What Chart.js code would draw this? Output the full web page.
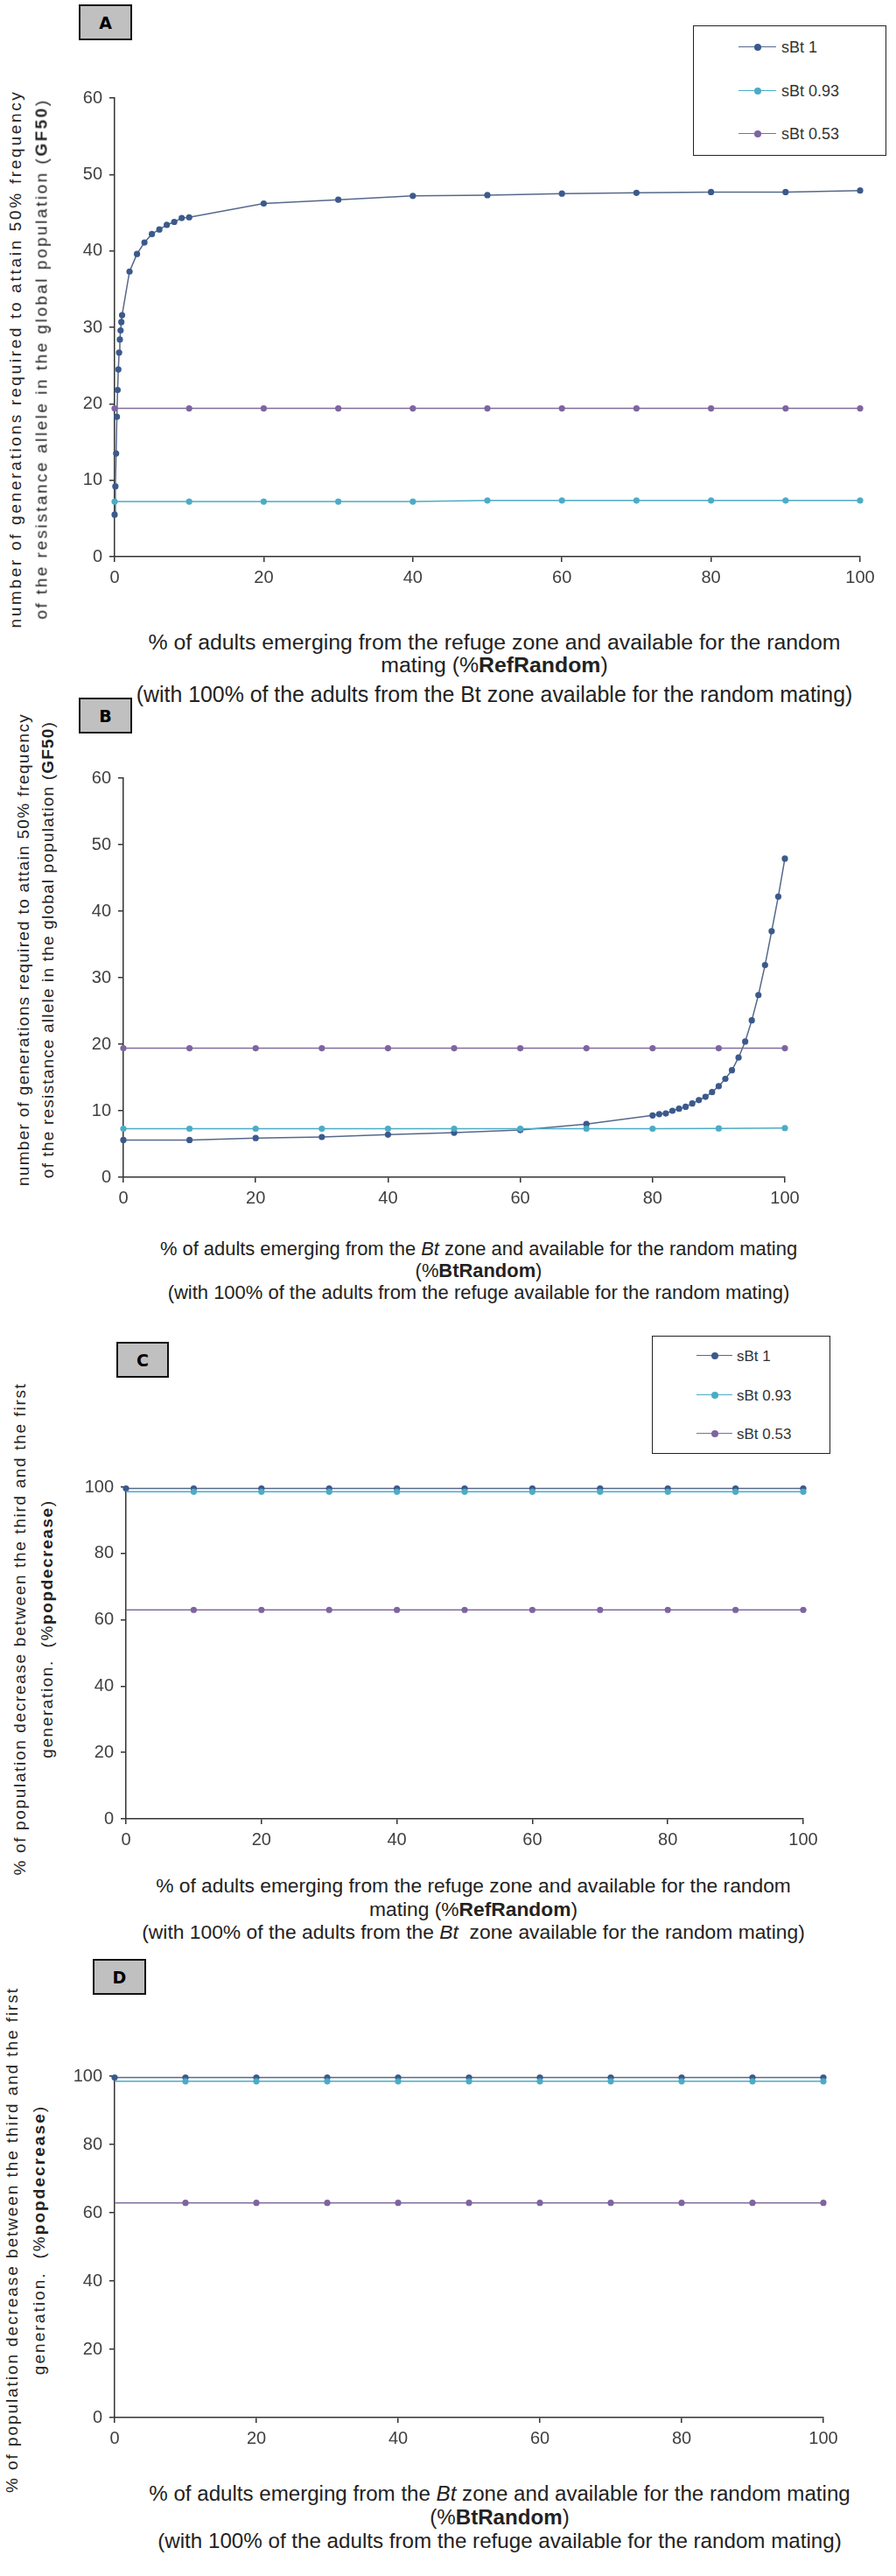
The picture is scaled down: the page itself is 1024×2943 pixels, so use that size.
<!DOCTYPE html>
<html lang="en">
<head>
<meta charset="UTF-8">
<title>GF50 and population decrease vs random mating</title>
<script src="https://cdn.jsdelivr.net/npm/chart.js@4.4.1/dist/chart.umd.min.js"></script>
<style>
  body { margin: 0; background: #fff; }
  #page { position: relative; width: 1024px; height: 2943px; overflow: hidden;
          font-family: "Liberation Sans", Arial, sans-serif; color: #222; }
  canvas { position: absolute; }
  .txt { position: absolute; white-space: nowrap; line-height: 1; transform: translate(-50%, -50%); }
  .rot { transform: translate(-50%, -50%) rotate(-90deg); }
  .tag { position: absolute; background: #c0c0c0; border: 2px solid #111; box-sizing: border-box;
         font: bold 19px "DejaVu Sans", Verdana, sans-serif; color: #000;
         display: flex; align-items: center; justify-content: center; }
  .legend { position: absolute; border: 1.5px solid #222; box-sizing: border-box; background: #fff; }
  .leg-line { position: absolute; height: 0; }
  .leg-dot { position: absolute; width: 8px; height: 8px; border-radius: 50%; }
  .leg-txt { position: absolute; white-space: nowrap; line-height: 1; transform: translateY(-50%); color: #333; }
</style>
</head>
<body>
<div id="page"></div>

<script>
// ---- data ----
const seriesNames = ['sBt 1', 'sBt 0.93', 'sBt 0.53'];
const xTicks = [0, 20, 40, 60, 80, 100];
const gfTicks = [0, 10, 20, 30, 40, 50, 60];
const pctTicks = [0, 20, 40, 60, 80, 100];
const xTen = [0, 10, 20, 30, 40, 50, 60, 70, 80, 90, 100];

// A: GF50 vs %RefRandom
const xA_sBt1 = [0, 0.1, 0.2, 0.3, 0.4, 0.5, 0.6, 0.7, 0.8, 0.9, 1, 2, 3, 4, 5, 6, 7, 8, 9, 10,
                 20, 30, 40, 50, 60, 70, 80, 90, 100];
const yA_sBt1 = [5.5, 9.2, 13.5, 18.3, 21.8, 24.5, 26.7, 28.4, 29.6, 30.7, 31.6, 37.3, 39.6, 41.1, 42.2,
                 42.8, 43.4, 43.8, 44.3, 44.4, 46.2, 46.7, 47.2, 47.3, 47.5, 47.6, 47.7, 47.7, 47.9];
const yA_sBt093 = [7.2, 7.2, 7.2, 7.2, 7.2, 7.35, 7.35, 7.35, 7.35, 7.35, 7.35];
const yA_sBt053 = [19.4, 19.4, 19.4, 19.4, 19.4, 19.4, 19.4, 19.4, 19.4, 19.4, 19.4];

// B: GF50 vs %BtRandom
const xB_sBt1 = [0, 10, 20, 30, 40, 50, 60, 70, 80, 81, 82, 83, 84, 85, 86, 87, 88, 89, 90,
                 91, 92, 93, 94, 95, 96, 97, 98, 99, 100];
const yB_sBt1 = [5.6, 5.6, 5.9, 6.05, 6.4, 6.7, 7.1, 8.0, 9.3, 9.5, 9.6, 10.0, 10.3, 10.6, 11.1, 11.6,
                 12.1, 12.8, 13.7, 14.8, 16.1, 18.0, 20.4, 23.6, 27.4, 31.9, 37.0, 42.2, 47.9];
const yB_sBt093 = [7.3, 7.3, 7.3, 7.3, 7.3, 7.3, 7.3, 7.3, 7.3, 7.35, 7.4];
const yB_sBt053 = [19.4, 19.4, 19.4, 19.4, 19.4, 19.4, 19.4, 19.4, 19.4, 19.4, 19.4];

// C: %popdecrease vs %RefRandom
const yC_sBt1 = [99.6, 99.6, 99.6, 99.6, 99.6, 99.6, 99.6, 99.6, 99.6, 99.6, 99.6];
const yC_sBt093 = [98.6, 98.6, 98.6, 98.6, 98.6, 98.6, 98.6, 98.6, 98.6, 98.6, 98.6];
const yC_sBt053 = [63.0, 63.0, 63.0, 63.0, 63.0, 63.0, 63.0, 63.0, 63.0, 63.0, 63.0];

// D: %popdecrease vs %BtRandom
const yD_sBt1 = [99.6, 99.6, 99.6, 99.6, 99.6, 99.6, 99.6, 99.6, 99.6, 99.6, 99.6];
const yD_sBt093 = [98.5, 98.5, 98.5, 98.5, 98.5, 98.5, 98.5, 98.5, 98.5, 98.5, 98.5];
const yD_sBt053 = [62.9, 62.9, 62.9, 62.9, 62.9, 62.9, 62.9, 62.9, 62.9, 62.9, 62.9];

// ---- styles ----
const lineColors = ['#56688a', '#4bacc6', '#7f6e9d'];
const markerColors = ['#3b5a8c', '#4bacc6', '#7e64a0'];
const axisColor = '#333';
const tickFont = { family: 'Liberation Sans', size: 20 };

const page = document.getElementById('page');

const panels = [
  { area: { l: 131, t: 112, r: 983, b: 636 }, yMax: 60, yTicks: gfTicks, hideFirst: false,
    series: [[xA_sBt1, yA_sBt1], [xTen, yA_sBt093], [xTen, yA_sBt053]] },
  { area: { l: 141, t: 889, r: 897, b: 1345 }, yMax: 60, yTicks: gfTicks, hideFirst: false,
    series: [[xB_sBt1, yB_sBt1], [xTen, yB_sBt093], [xTen, yB_sBt053]] },
  { area: { l: 144, t: 1699, r: 918, b: 2078 }, yMax: 100, yTicks: pctTicks, hideFirst: true,
    series: [[xTen, yC_sBt1], [xTen, yC_sBt093], [xTen, yC_sBt053]] },
  { area: { l: 131, t: 2372, r: 941, b: 2762 }, yMax: 100, yTicks: pctTicks, hideFirst: true,
    series: [[xTen, yD_sBt1], [xTen, yD_sBt093], [xTen, yD_sBt053]] }
];

function makeChart(p) {
  const padL = 75, padT = 20, padR = 45, padB = 50;
  const W = p.area.r - p.area.l + padL + padR;
  const H = p.area.b - p.area.t + padT + padB;
  const c = document.createElement('canvas');
  c.width = W; c.height = H;
  c.style.width = W + 'px'; c.style.height = H + 'px';
  c.style.left = (p.area.l - padL) + 'px';
  c.style.top = (p.area.t - padT) + 'px';
  page.appendChild(c);

  const datasets = p.series.map(function (s, i) {
    return {
      label: seriesNames[i],
      data: s[0].map(function (x, j) { return { x: x, y: s[1][j] }; }),
      borderColor: lineColors[i],
      backgroundColor: markerColors[i],
      pointBackgroundColor: markerColors[i],
      pointBorderColor: markerColors[i],
      pointBorderWidth: 0,
      pointRadius: function (ctx) { return (p.hideFirst && i > 0 && ctx.dataIndex === 0) ? 0 : 3.6; },
      borderWidth: 1.5,
      tension: 0,
      clip: false,
      order: 3 - i
    };
  });

  const grid = { drawOnChartArea: false, drawTicks: true, tickLength: 6, color: axisColor, lineWidth: 1.5 };
  const border = { color: axisColor, width: 1.5 };

  new Chart(c, {
    type: 'line',
    data: { datasets: datasets },
    options: {
      responsive: false,
      animation: false,
      layout: { autoPadding: false, padding: { left: 0, top: padT, right: padR, bottom: 0 } },
      plugins: { legend: { display: false }, tooltip: { enabled: false } },
      scales: {
        x: {
          type: 'linear', min: 0, max: 100,
          afterBuildTicks: function (s) { s.ticks = xTicks.map(function (v) { return { value: v }; }); },
          afterFit: function (s) { s.height = padB; },
          grid: grid, border: border,
          ticks: { color: '#404040', font: tickFont, padding: 6, maxRotation: 0 }
        },
        y: {
          type: 'linear', min: 0, max: p.yMax,
          afterBuildTicks: function (s) { s.ticks = p.yTicks.map(function (v) { return { value: v }; }); },
          afterFit: function (s) { s.width = padL; },
          grid: grid, border: border,
          ticks: { color: '#404040', font: tickFont, padding: 8 }
        }
      }
    }
  });
}

panels.forEach(makeChart);

// ---- texts ----
function addText(t) {
  const el = document.createElement('div');
  el.className = 'txt' + (t.rot ? ' rot' : '');
  el.innerHTML = t.html;
  el.style.fontSize = t.size + 'px';
  el.style.left = t.x + 'px';
  el.style.top = t.y + 'px';
  page.appendChild(el);
  if (t.w) {
    if (t.fit === 'spacing') {
      const n = el.textContent.length;
      el.style.letterSpacing = ((t.w - el.offsetWidth) / n) + 'px';
    } else {
      el.style.fontSize = (t.size * t.w / el.offsetWidth) + 'px';
    }
  }
  return parseFloat(el.style.fontSize);
}

const yTitles = [
  { x: 17, y: 410, w: 615, html: 'number of generations required to attain 50% frequency' },
  { x: 47, y: 410, w: 595, html: 'of the resistance allele in the global population (<b>GF50</b>)' },
  { x: 26, y: 1085, w: 540, html: 'number of generations required to attain 50% frequency' },
  { x: 54, y: 1085, w: 522, html: 'of the resistance allele in the global population (<b>GF50</b>)' },
  { x: 22, y: 1861, w: 563, html: '% of population decrease between the third and the first' },
  { x: 53, y: 1861, w: 295, html: 'generation.&nbsp; (%<b>popdecrease</b>)' },
  { x: 13, y: 2559, w: 578, html: '% of population decrease between the third and the first' },
  { x: 44, y: 2559, w: 308, html: 'generation.&nbsp; (%<b>popdecrease</b>)' }
];
yTitles.forEach(function (t) { t.rot = true; t.size = 19; t.fit = 'spacing'; addText(t); });

const xTitles = [
  { x: 565, ys: [734, 760, 793], w1: 791, w3: 819,
    l1: '% of adults emerging from the refuge zone and available for the random',
    l2: 'mating (%<b>RefRandom</b>)',
    l3: '(with 100% of the adults from the Bt zone available for the random mating)' },
  { x: 547, ys: [1427, 1452, 1477], w1: 729, w3: 711,
    l1: '% of adults emerging from the <i>Bt</i> zone and available for the random mating',
    l2: '(%<b>BtRandom</b>)',
    l3: '(with 100% of the adults from the refuge available for the random mating)' },
  { x: 541, ys: [2154, 2181, 2207], w1: 726, w3: 758,
    l1: '% of adults emerging from the refuge zone and available for the random',
    l2: 'mating (%<b>RefRandom</b>)',
    l3: '(with 100% of the adults from the <i>Bt</i>&nbsp; zone available for the random mating)' },
  { x: 571, ys: [2849, 2876, 2903], w1: 802, w3: 782,
    l1: '% of adults emerging from the <i>Bt</i> zone and available for the random mating',
    l2: '(%<b>BtRandom</b>)',
    l3: '(with 100% of the adults from the refuge available for the random mating)' }
];
xTitles.forEach(function (t) {
  const s = addText({ x: t.x, y: t.ys[0], w: t.w1, size: 20, html: t.l1 });
  addText({ x: t.x, y: t.ys[1], size: s, html: t.l2 });
  addText({ x: t.x, y: t.ys[2], w: t.w3, size: 20, html: t.l3 });
});

// panel letters
[['A', 90, 5, 61], ['B', 90, 797, 61], ['C', 133, 1533, 60], ['D', 106, 2238, 61]].forEach(function (b) {
  const el = document.createElement('div');
  el.className = 'tag';
  el.textContent = b[0];
  el.style.left = b[1] + 'px'; el.style.top = b[2] + 'px';
  el.style.width = b[3] + 'px'; el.style.height = '41px';
  page.appendChild(el);
});

// legends (panels A and C)
function addLegend(box, rows, lineX, lineW, textX, size) {
  const lg = document.createElement('div');
  lg.className = 'legend';
  lg.style.left = box[0] + 'px'; lg.style.top = box[1] + 'px';
  lg.style.width = box[2] + 'px'; lg.style.height = box[3] + 'px';
  page.appendChild(lg);
  seriesNames.forEach(function (name, i) {
    const y = rows[i];
    const ln = document.createElement('div');
    ln.className = 'leg-line';
    ln.style.left = lineX + 'px'; ln.style.top = (y - 1) + 'px'; ln.style.width = lineW + 'px';
    ln.style.borderTop = '1.5px solid ' + lineColors[i];
    page.appendChild(ln);
    const dot = document.createElement('div');
    dot.className = 'leg-dot';
    dot.style.left = (lineX + lineW / 2 - 4) + 'px'; dot.style.top = (y - 4) + 'px';
    dot.style.background = markerColors[i];
    page.appendChild(dot);
    const tx = document.createElement('div');
    tx.className = 'leg-txt';
    tx.textContent = name;
    tx.style.left = textX + 'px'; tx.style.top = y + 'px'; tx.style.fontSize = size + 'px';
    page.appendChild(tx);
  });
}
addLegend([792, 29, 221, 149], [54, 104, 153], 844, 43, 893, 18);
addLegend([745, 1526, 204, 135], [1549, 1594, 1638], 796, 41, 842, 17);
</script>
</body>
</html>
